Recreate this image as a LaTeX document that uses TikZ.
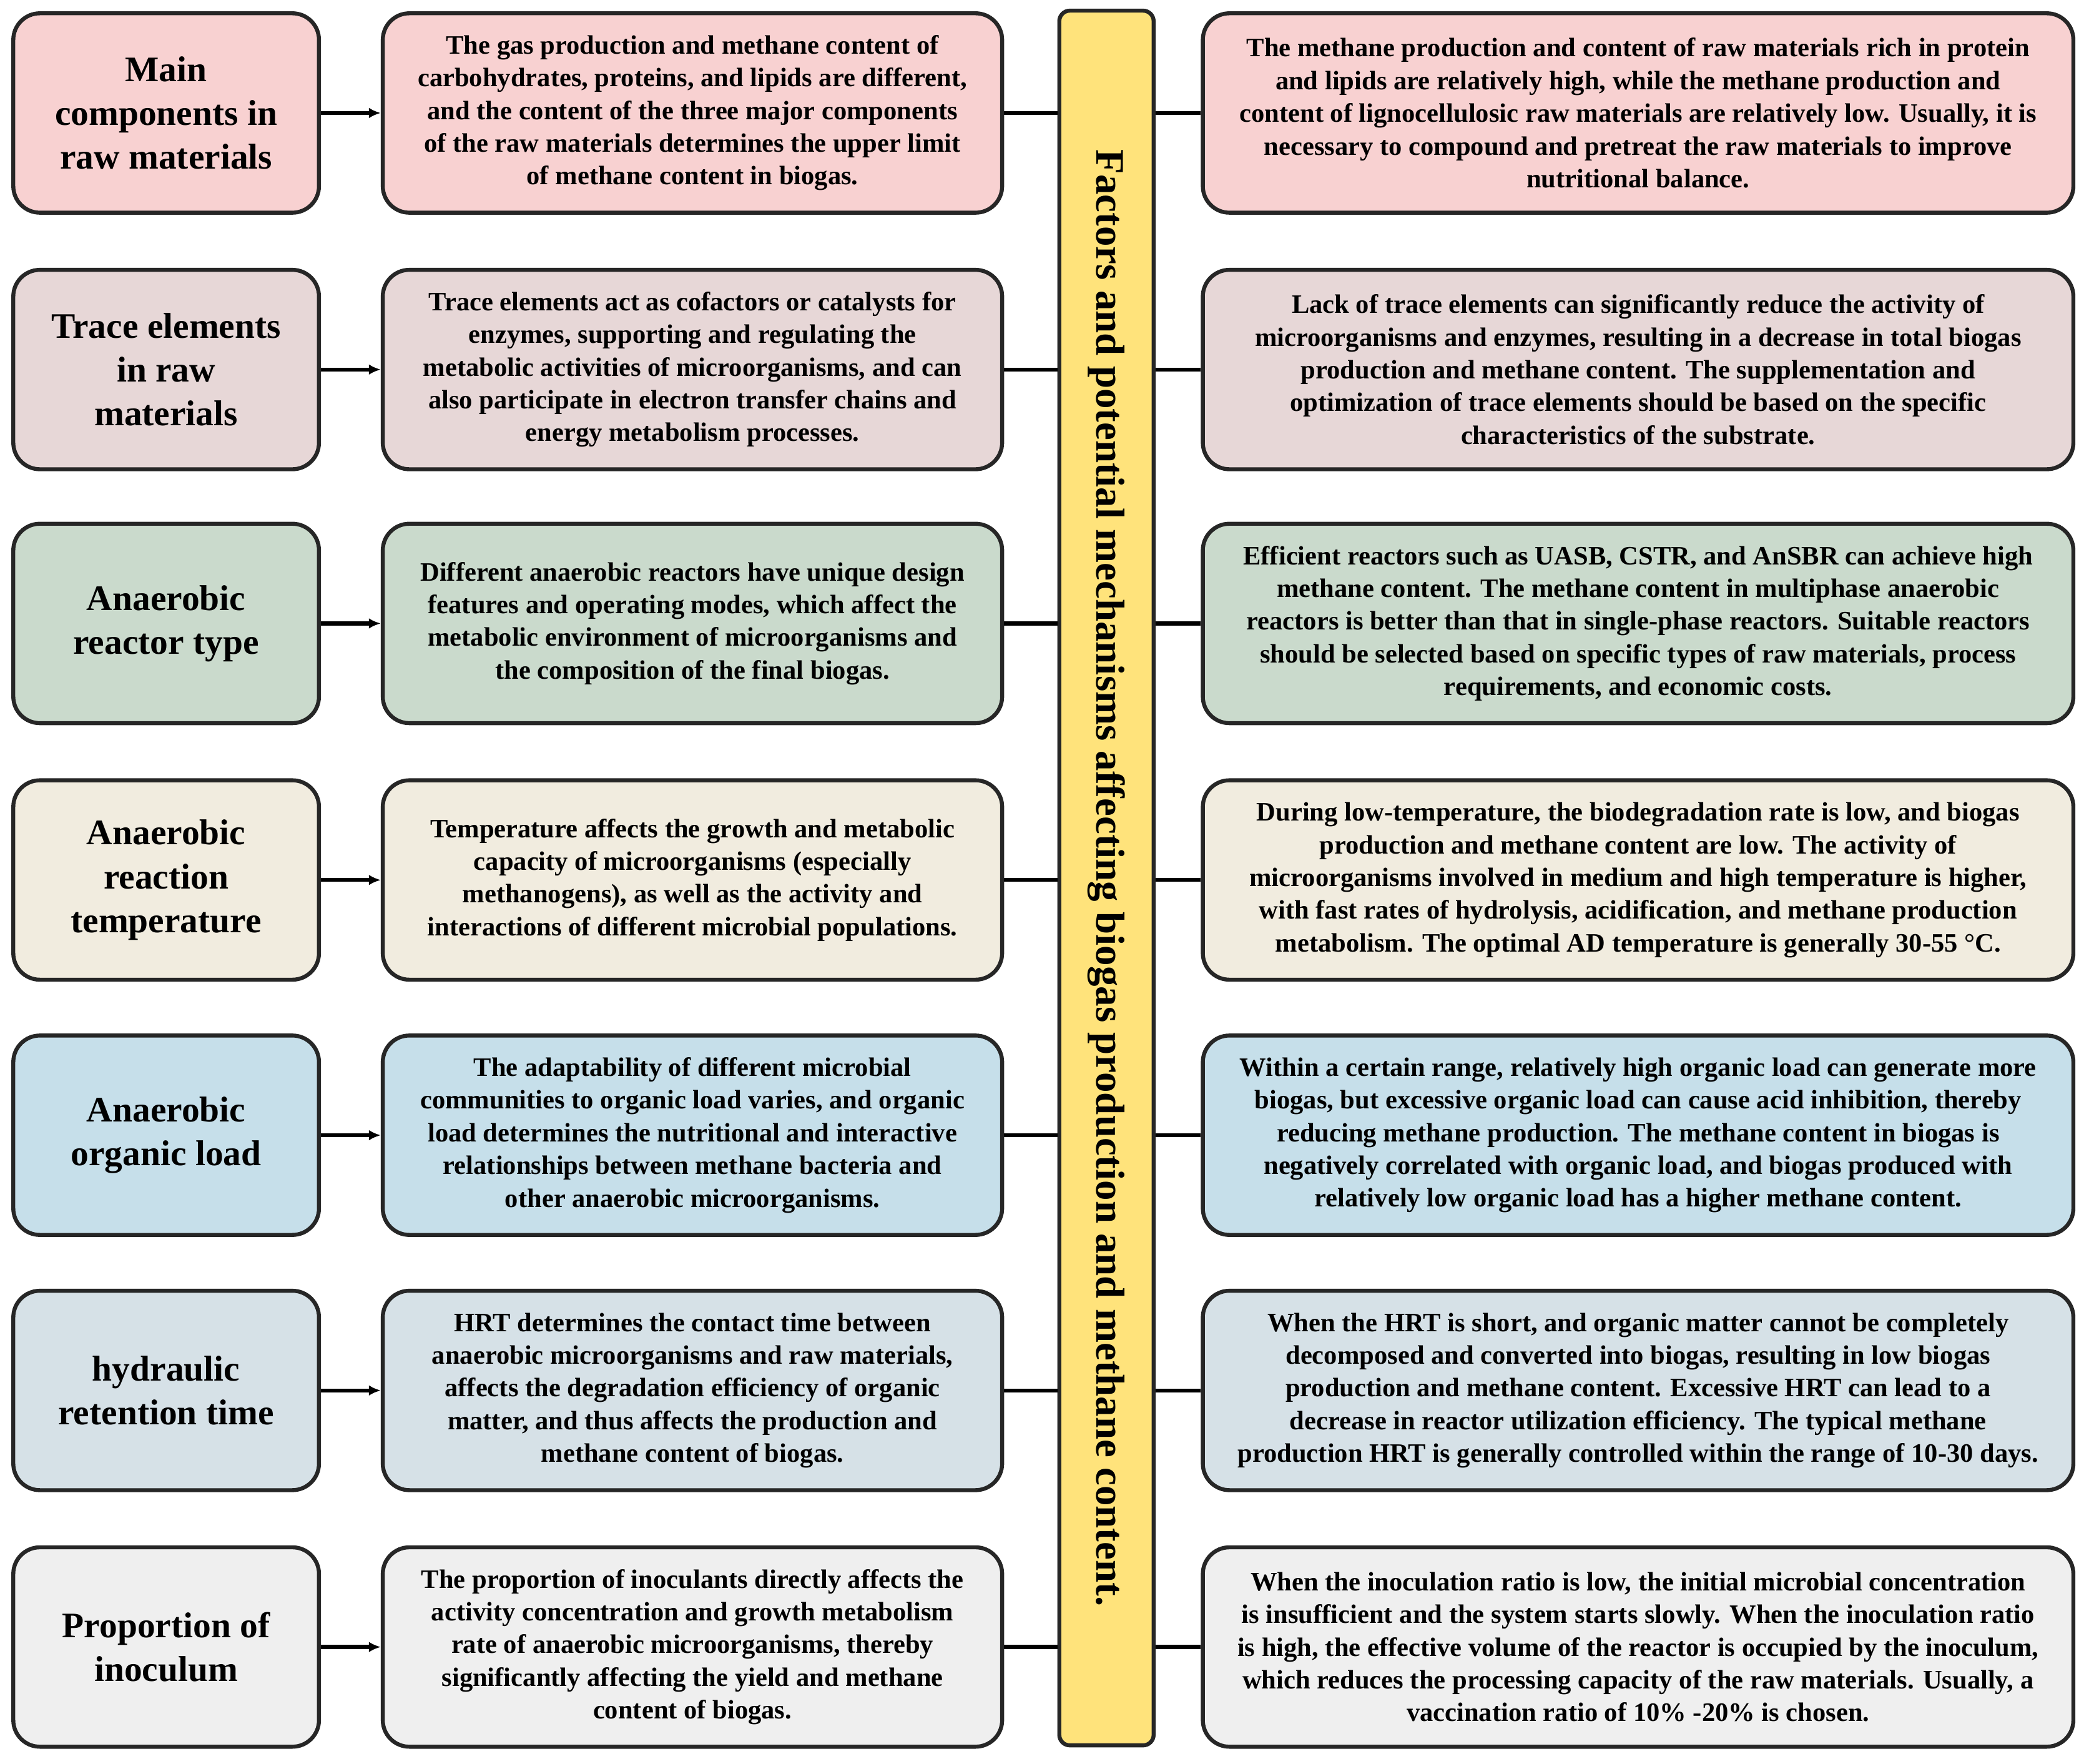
\documentclass[tikz,border=0pt]{standalone}
\usepackage{fontspec}
\setmainfont{Liberation Serif}
\usetikzlibrary{positioning,arrows.meta}
\definecolor{rowA}{HTML}{F8D1D1}
\definecolor{rowB}{HTML}{E7D7D7}
\definecolor{rowC}{HTML}{CADACC}
\definecolor{rowD}{HTML}{F1ECDF}
\definecolor{rowE}{HTML}{C6DFEA}
\definecolor{rowF}{HTML}{D6E1E7}
\definecolor{rowG}{HTML}{EFEFEF}
\definecolor{barfill}{HTML}{FFE37B}
\begin{document}
\begin{tikzpicture}[x=1pt,y=-1pt,
	box/.style={rectangle, rounded corners=20pt, line width=3pt, draw=black!85, minimum height=150pt, align=center, font=\bfseries\fontsize{20}{24.6}\selectfont},
	head/.style={box, minimum width=230pt, font=\bfseries\fontsize{27}{33}\selectfont},
	mid/.style={box, minimum width=466pt},
	far/.style={box, minimum width=655pt},
	connect/.style={-{Latex[length=9pt,width=8pt]}, line width=3pt},
	link/.style={line width=3pt},
	node distance=45pt]
	\useasboundingbox (0,0) rectangle (1568,1327);
	% first column
	\node[head, fill=rowA] (H1) at (125,85) {Main\\components in\\raw materials};
	\node[head, fill=rowB] (H2) at (125,278) {Trace elements\\in raw\\materials};
	\node[head, fill=rowC] (H3) at (125,469) {Anaerobic\\reactor type};
	\node[head, fill=rowD] (H4) at (125,662) {Anaerobic\\reaction\\temperature};
	\node[head, fill=rowE] (H5) at (125,854) {Anaerobic\\organic load};
	\node[head, fill=rowF] (H6) at (125,1046) {hydraulic\\retention time};
	\node[head, fill=rowG] (H7) at (125,1239) {Proportion of\\inoculum};
	% second column
	\node[mid, fill=rowA] (M1) [right=of H1] {The gas production and methane content of\\carbohydrates, proteins, and lipids are different,\\and the content of the three major components\\of the raw materials determines the upper limit\\of methane content in biogas.};
	\node[mid, fill=rowB] (M2) [right=of H2] {Trace elements act as cofactors or catalysts for\\enzymes, supporting and regulating the\\metabolic activities of microorganisms, and can\\also participate in electron transfer chains and\\energy metabolism processes.};
	\node[mid, fill=rowC] (M3) [right=of H3] {Different anaerobic reactors have unique design\\features and operating modes, which affect the\\metabolic environment of microorganisms and\\the composition of the final biogas.};
	\node[mid, fill=rowD] (M4) [right=of H4] {Temperature affects the growth and metabolic\\capacity of microorganisms (especially\\methanogens), as well as the activity and\\interactions of different microbial populations.};
	\node[mid, fill=rowE] (M5) [right=of H5] {The adaptability of different microbial\\communities to organic load varies, and organic\\load determines the nutritional and interactive\\relationships between methane bacteria and\\other anaerobic microorganisms.};
	\node[mid, fill=rowF] (M6) [right=of H6] {HRT determines the contact time between\\anaerobic microorganisms and raw materials,\\affects the degradation efficiency of organic\\matter, and thus affects the production and\\methane content of biogas.};
	\node[mid, fill=rowG] (M7) [right=of H7] {The proportion of inoculants directly affects the\\activity concentration and growth metabolism\\rate of anaerobic microorganisms, thereby\\significantly affecting the yield and methane\\content of biogas.};
	% central bar
	\node[rectangle, rounded corners=8pt, line width=3pt, draw=black!85, fill=barfill, minimum width=71pt, minimum height=1305pt] (bar) at (832.5,660.5) {};
	\node[rotate=-90, font=\bfseries\fontsize{30.5}{34}\selectfont] (title) at (bar.center) {Factors and potential mechanisms affecting biogas production and methane content.};
	% third column
	\node[far, fill=rowA] (R1) at (1232.5,85) {The methane production and content of raw materials rich in protein\\and lipids are relatively high, while the methane production and\\content of lignocellulosic raw materials are relatively low. Usually, it is\\necessary to compound and pretreat the raw materials to improve\\nutritional balance.};
	\node[far, fill=rowB] (R2) at (1232.5,278) {Lack of trace elements can significantly reduce the activity of\\microorganisms and enzymes, resulting in a decrease in total biogas\\production and methane content. The supplementation and\\optimization of trace elements should be based on the specific\\characteristics of the substrate.};
	\node[far, fill=rowC] (R3) at (1232.5,469) {Efficient reactors such as UASB, CSTR, and AnSBR can achieve high\\methane content. The methane content in multiphase anaerobic\\reactors is better than that in single-phase reactors. Suitable reactors\\should be selected based on specific types of raw materials, process\\requirements, and economic costs.};
	\node[far, fill=rowD] (R4) at (1232.5,662) {During low-temperature, the biodegradation rate is low, and biogas\\production and methane content are low. The activity of\\microorganisms involved in medium and high temperature is higher,\\with fast rates of hydrolysis, acidification, and methane production\\metabolism. The optimal AD temperature is generally 30-55 \textdegree C.};
	\node[far, fill=rowE] (R5) at (1232.5,854) {Within a certain range, relatively high organic load can generate more\\biogas, but excessive organic load can cause acid inhibition, thereby\\reducing methane production. The methane content in biogas is\\negatively correlated with organic load, and biogas produced with\\relatively low organic load has a higher methane content.};
	\node[far, fill=rowF] (R6) at (1232.5,1046) {When the HRT is short, and organic matter cannot be completely\\decomposed and converted into biogas, resulting in low biogas\\production and methane content. Excessive HRT can lead to a\\decrease in reactor utilization efficiency. The typical methane\\production HRT is generally controlled within the range of 10-30 days.};
	\node[far, fill=rowG] (R7) at (1232.5,1239) {When the inoculation ratio is low, the initial microbial concentration\\is insufficient and the system starts slowly. When the inoculation ratio\\is high, the effective volume of the reactor is occupied by the inoculum,\\which reduces the processing capacity of the raw materials. Usually, a\\vaccination ratio of 10\% -20\% is chosen.};
	% connectors
	\foreach \i in {1,...,7}{
		\draw[connect] (H\i) -- (M\i);
		\draw[link] (M\i.east) -- (M\i.east -| bar.west);
		\draw[link] (R\i.west) -- (R\i.west -| bar.east);
	}
\end{tikzpicture}
\end{document}
